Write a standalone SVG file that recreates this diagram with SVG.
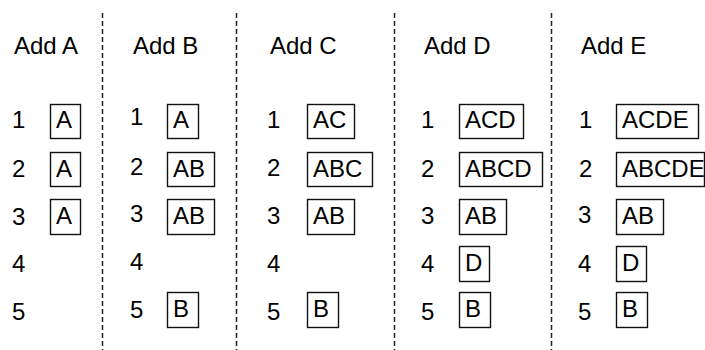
<svg xmlns="http://www.w3.org/2000/svg" width="705" height="350" viewBox="0 0 705 350">
<style>
text{font-family:"Liberation Sans",Arial,sans-serif;font-size:24px;fill:#000}
.box{fill:#fff;stroke:#111;stroke-width:1.4}
.div{stroke:#222;stroke-width:1.5;stroke-dasharray:5,3;fill:none}
</style>
<rect width="705" height="350" fill="#fff"/>
<g id="dividers">
<line class="div" x1="102.5" y1="13" x2="102.5" y2="350"/>
<line class="div" x1="236.5" y1="13" x2="236.5" y2="350"/>
<line class="div" x1="394.5" y1="13" x2="394.5" y2="350"/>
<line class="div" x1="551.5" y1="13" x2="551.5" y2="350"/>
</g>
<g id="titles">
<text x="14" y="54">Add A</text>
<text x="133" y="54">Add B</text>
<text x="270" y="54">Add C</text>
<text x="424" y="54">Add D</text>
<text x="581" y="54">Add E</text>
</g>
<g id="numbers">
<text x="12" y="128">1</text><text x="12" y="177">2</text><text x="12" y="225">3</text><text x="12" y="272">4</text><text x="12" y="320">5</text>
<text x="130" y="125">1</text><text x="130" y="175">2</text><text x="130" y="222">3</text><text x="130" y="270">4</text><text x="130" y="318">5</text>
<text x="267" y="128">1</text><text x="267" y="176">2</text><text x="267" y="224">3</text><text x="267" y="272">4</text><text x="267" y="320">5</text>
<text x="421" y="128">1</text><text x="421" y="177">2</text><text x="421" y="224">3</text><text x="421" y="272">4</text><text x="421" y="320">5</text>
<text x="579" y="128">1</text><text x="579" y="177">2</text><text x="578" y="223">3</text><text x="578" y="272">4</text><text x="578" y="320">5</text>
</g>
<g id="colA">
<g id="A1"><rect class="box" x="50.5" y="104.5" width="30" height="34"/><text x="56" y="128">A</text></g>
<g id="A2"><rect class="box" x="50.5" y="152.5" width="30" height="34"/><text x="56" y="176.5">A</text></g>
<g id="A3"><rect class="box" x="50.5" y="199.5" width="30" height="35"/><text x="56" y="224">A</text></g>
</g>
<g id="colB">
<g id="B1"><rect class="box" x="167.5" y="104.5" width="31" height="34"/><text x="173" y="128">A</text></g>
<g id="B2"><rect class="box" x="167.5" y="152.5" width="47" height="34"/><text x="173" y="176.5">AB</text></g>
<g id="B3"><rect class="box" x="167.5" y="199.5" width="47" height="35"/><text x="173" y="224">AB</text></g>
<g id="B5"><rect class="box" x="167.5" y="292.5" width="31" height="35"/><text x="173" y="317">B</text></g>
</g>
<g id="colC">
<g id="C1"><rect class="box" x="307.5" y="104.5" width="47" height="34"/><text x="313" y="128">AC</text></g>
<g id="C2"><rect class="box" x="307.5" y="152.5" width="65" height="34"/><text x="313" y="176.5">ABC</text></g>
<g id="C3"><rect class="box" x="307.5" y="199.5" width="47" height="35"/><text x="313" y="224">AB</text></g>
<g id="C5"><rect class="box" x="307.5" y="292.5" width="31" height="35"/><text x="313" y="317">B</text></g>
</g>
<g id="colD">
<g id="D1"><rect class="box" x="459.5" y="104.5" width="64" height="34"/><text x="465" y="128">ACD</text></g>
<g id="D2"><rect class="box" x="459.5" y="152.5" width="83" height="34"/><text x="465" y="176.5">ABCD</text></g>
<g id="D3"><rect class="box" x="459.5" y="199.5" width="47" height="35"/><text x="465" y="224">AB</text></g>
<g id="D4"><rect class="box" x="459.5" y="246.5" width="30" height="35"/><text x="465" y="271">D</text></g>
<g id="D5"><rect class="box" x="459.5" y="292.5" width="31" height="35"/><text x="465" y="317">B</text></g>
</g>
<g id="colE">
<g id="E1"><rect class="box" x="616.5" y="104.5" width="82" height="34"/><text x="622" y="128">ACDE</text></g>
<g id="E2"><rect class="box" x="616.5" y="152.5" width="88" height="34"/><text x="622" y="176.5">ABCDE</text></g>
<g id="E3"><rect class="box" x="616.5" y="199.5" width="47" height="35"/><text x="622" y="224">AB</text></g>
<g id="E4"><rect class="box" x="616.5" y="246.5" width="30" height="35"/><text x="622" y="271">D</text></g>
<g id="E5"><rect class="box" x="616.5" y="292.5" width="31" height="35"/><text x="622" y="317">B</text></g>
</g>
</svg>
